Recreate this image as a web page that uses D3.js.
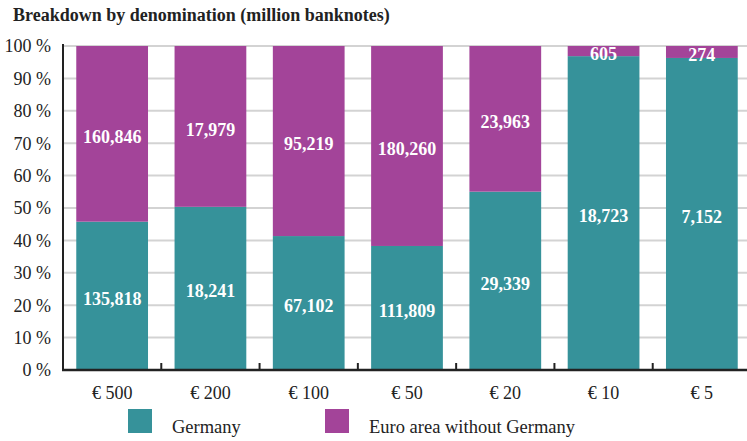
<!DOCTYPE html>
<html><head><meta charset="utf-8">
<script src="https://cdn.jsdelivr.net/npm/d3@7"></script>
<style>body{margin:0;background:#fff}svg{display:block}</style>
</head><body><svg id="c" width="747" height="441" font-family="'Liberation Serif', 'DejaVu Serif', serif"></svg>
<script>
const categories = ["€ 500","€ 200","€ 100","€ 50","€ 20","€ 10","€ 5"];
const germany = [135818,18241,67102,111809,29339,18723,7152];
const euroAreaWithoutGermany = [160846,17979,95219,180260,23963,605,274];
const yTicks = [0,10,20,30,40,50,60,70,80,90,100];
const seriesNames = ["Germany","Euro area without Germany"];
const colors = ["#36929a","#a34499"];

const svg = d3.select("#c");
const x = d3.scaleBand().domain(categories).range([63,751]).paddingInner(0.27).paddingOuter(0.135);
const y = d3.scaleLinear().domain([0,100]).range([370,46]);

svg.append("text").attr("x",13).attr("y",21).attr("font-weight","bold").attr("font-size",18).attr("fill","#222")
  .text("Breakdown by denomination (million banknotes)");

svg.append("g").selectAll("line").data(yTicks.filter(t=>t>0)).join("line")
  .attr("x1",63).attr("x2",747).attr("y1",d=>y(d)).attr("y2",d=>y(d))
  .attr("stroke","#d3d3d3").attr("stroke-width",2);

svg.append("g").selectAll("text").data(yTicks).join("text")
  .attr("x",51).attr("y",d=>y(d)).attr("dy","0.35em").attr("text-anchor","end")
  .attr("font-size",18).attr("fill","#222").text(d=>d+" %");

const data = categories.map((c,i)=>{
  const t = germany[i]+euroAreaWithoutGermany[i];
  return {c, g:germany[i], e:euroAreaWithoutGermany[i], gp:germany[i]/t*100};
});
const fmt = d3.format(",");

const bars = svg.append("g");
bars.selectAll("rect.g").data(data).join("rect").attr("class","g")
  .attr("x",d=>x(d.c)).attr("width",x.bandwidth())
  .attr("y",d=>y(d.gp)).attr("height",d=>y(0)-y(d.gp)).attr("fill",colors[0]);
bars.selectAll("rect.e").data(data).join("rect").attr("class","e")
  .attr("x",d=>x(d.c)).attr("width",x.bandwidth())
  .attr("y",y(100)).attr("height",d=>y(d.gp)-y(100)).attr("fill",colors[1]);

const lab = svg.append("g").attr("font-weight","bold").attr("font-size",18).attr("fill","#fff").attr("text-anchor","middle");
lab.selectAll("text.g").data(data).join("text").attr("class","g")
  .attr("x",d=>x(d.c)+x.bandwidth()/2).attr("y",d=>(y(d.gp)+y(0))/2+2.5).attr("dy","0.35em").text(d=>fmt(d.g));
lab.selectAll("text.e").data(data).join("text").attr("class","e")
  .attr("x",d=>x(d.c)+x.bandwidth()/2).attr("y",d=>(y(d.gp)+y(100))/2+3).attr("dy","0.35em").text(d=>fmt(d.e));

svg.append("line").attr("x1",63).attr("x2",63).attr("y1",44).attr("y2",371).attr("stroke","#222").attr("stroke-width",2);
svg.append("line").attr("x1",62).attr("x2",747).attr("y1",370).attr("y2",370).attr("stroke","#222").attr("stroke-width",2.5);
svg.append("g").selectAll("line").data(categories.slice(1)).join("line")
  .attr("x1",d=>x(d)-x.step()*x.paddingInner()/2).attr("x2",d=>x(d)-x.step()*x.paddingInner()/2)
  .attr("y1",363).attr("y2",370).attr("stroke","#222").attr("stroke-width",2);

svg.append("g").selectAll("text").data(categories).join("text")
  .attr("x",d=>x(d)+x.bandwidth()/2).attr("y",399).attr("text-anchor","middle")
  .attr("font-size",18).attr("fill","#222").text(d=>d);

const legX = [128,325];
const lg = svg.append("g");
lg.selectAll("rect").data(seriesNames).join("rect")
  .attr("x",(d,i)=>legX[i]).attr("y",409).attr("width",24).attr("height",24).attr("fill",(d,i)=>colors[i]);
lg.selectAll("text").data(seriesNames).join("text")
  .attr("x",(d,i)=>legX[i]+44).attr("y",433).attr("font-size",18.5).attr("fill","#222").text(d=>d);
</script></body></html>
